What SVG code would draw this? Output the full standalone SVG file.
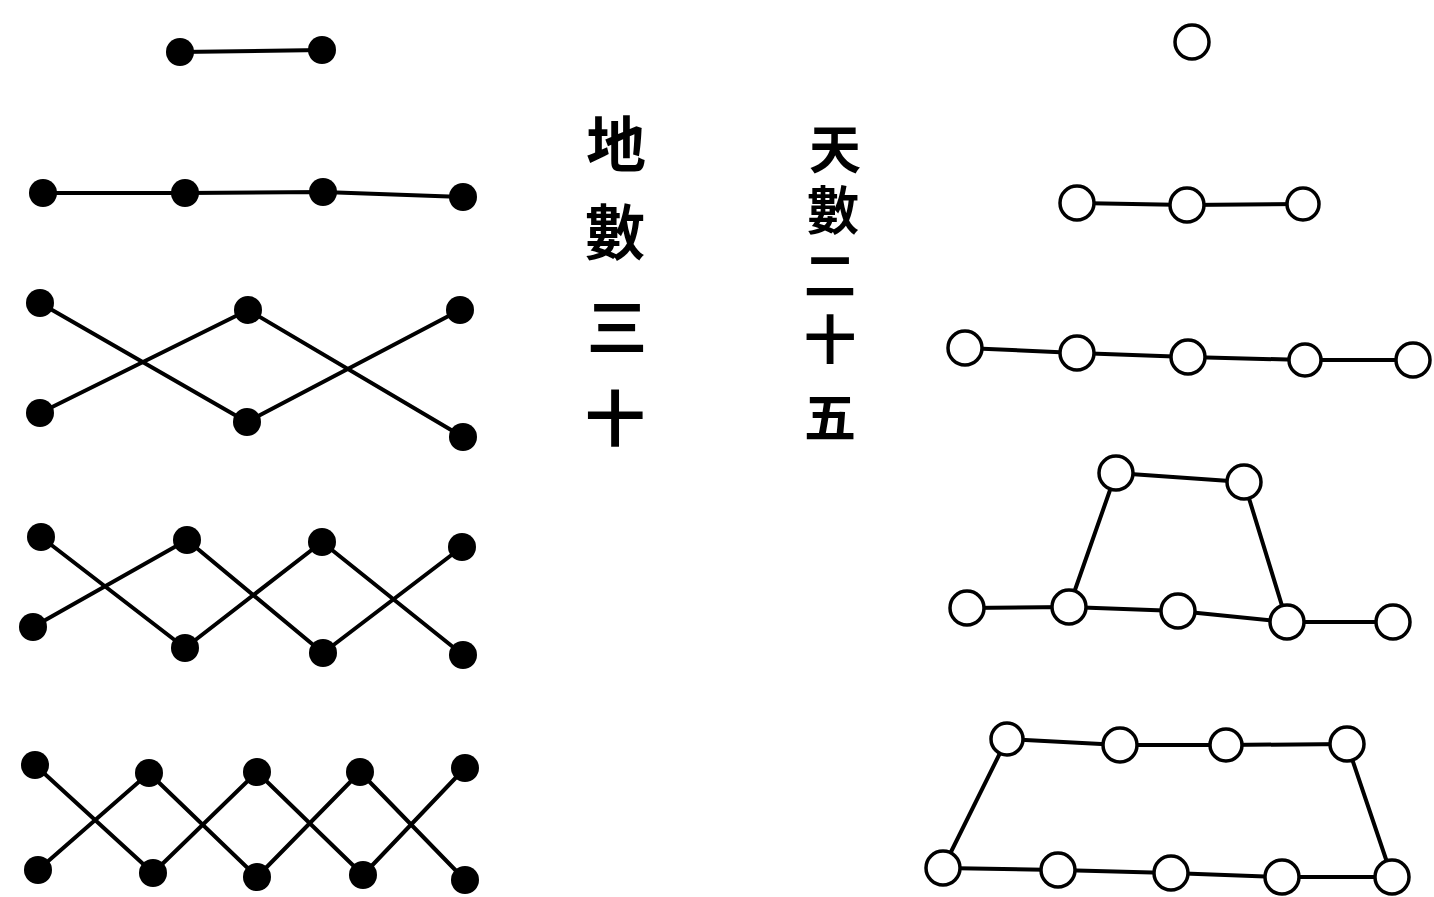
<svg xmlns="http://www.w3.org/2000/svg" width="1434" height="897" viewBox="0 0 1434 897">
<style>
.ln{stroke:#000;stroke-width:4;fill:none;stroke-linecap:round;stroke-linejoin:round}
.yin{fill:#000}
.yang{fill:#fff;stroke:#000;stroke-width:3.5}
.t{font-family:"Noto Sans CJK TC","Noto Sans CJK SC",sans-serif;font-weight:700;fill:#000;text-anchor:middle;dominant-baseline:central}
.tl{font-size:60px}
.tr{font-size:52px}
</style>
<rect width="1434" height="897" fill="#fff"/>
<g id="connectors">
<polyline class="ln" points="180,52 322,50"/>
<polyline class="ln" points="43,193 185,193 323,192 463,197"/>
<polyline class="ln" points="40,303 247,422 460,310"/>
<polyline class="ln" points="40,413 248,310 463,437"/>
<polyline class="ln" points="41,537 185,648 322,542 463,655"/>
<polyline class="ln" points="33,627 187,540 323,653 462,547"/>
<polyline class="ln" points="35,765 153,873 257,772 363,875 465,768"/>
<polyline class="ln" points="38,870 149,773 257,877 360,772 465,880"/>
<polyline class="ln" points="1077,203 1187,205 1303,204"/>
<polyline class="ln" points="965,348 1077,353 1188,357 1305,360 1413,360"/>
<polyline class="ln" points="967,608 1069,607 1178,611 1287,622 1393,622"/>
<polyline class="ln" points="1069,607 1116,473 1244,482 1287,622"/>
<polyline class="ln" points="943,868 1058,870 1171,873 1282,877 1392,877"/>
<polyline class="ln" points="943,868 1007,739 1120,745 1226,745 1347,744 1392,877"/>
</g>
<g id="earth-dots">
<g id="e1"><circle class="yin" cx="180" cy="52" r="14"/><circle class="yin" cx="322" cy="50" r="14"/></g>
<g id="e2"><circle class="yin" cx="43" cy="193" r="14"/><circle class="yin" cx="185" cy="193" r="14"/><circle class="yin" cx="323" cy="192" r="14"/><circle class="yin" cx="463" cy="197" r="14"/></g>
<g id="e3"><circle class="yin" cx="40" cy="303" r="14"/><circle class="yin" cx="248" cy="310" r="14"/><circle class="yin" cx="460" cy="310" r="14"/><circle class="yin" cx="40" cy="413" r="14"/><circle class="yin" cx="247" cy="422" r="14"/><circle class="yin" cx="463" cy="437" r="14"/></g>
<g id="e4"><circle class="yin" cx="41" cy="537" r="14"/><circle class="yin" cx="187" cy="540" r="14"/><circle class="yin" cx="322" cy="542" r="14"/><circle class="yin" cx="462" cy="547" r="14"/><circle class="yin" cx="33" cy="627" r="14"/><circle class="yin" cx="185" cy="648" r="14"/><circle class="yin" cx="323" cy="653" r="14"/><circle class="yin" cx="463" cy="655" r="14"/></g>
<g id="e5"><circle class="yin" cx="35" cy="765" r="14"/><circle class="yin" cx="149" cy="773" r="14"/><circle class="yin" cx="257" cy="772" r="14"/><circle class="yin" cx="360" cy="772" r="14"/><circle class="yin" cx="465" cy="768" r="14"/><circle class="yin" cx="38" cy="870" r="14"/><circle class="yin" cx="153" cy="873" r="14"/><circle class="yin" cx="257" cy="877" r="14"/><circle class="yin" cx="363" cy="875" r="14"/><circle class="yin" cx="465" cy="880" r="14"/></g>
</g>
<g id="heaven-circles">
<g id="h1"><circle class="yang" cx="1192" cy="42" r="17"/></g>
<g id="h2"><circle class="yang" cx="1077" cy="203" r="17"/><circle class="yang" cx="1187" cy="205" r="17"/><circle class="yang" cx="1303" cy="204" r="16"/></g>
<g id="h3"><circle class="yang" cx="965" cy="348" r="17"/><circle class="yang" cx="1077" cy="353" r="17"/><circle class="yang" cx="1188" cy="357" r="17"/><circle class="yang" cx="1305" cy="360" r="16"/><circle class="yang" cx="1413" cy="360" r="17"/></g>
<g id="h4"><circle class="yang" cx="1116" cy="473" r="17"/><circle class="yang" cx="1244" cy="482" r="17"/><circle class="yang" cx="967" cy="608" r="17"/><circle class="yang" cx="1069" cy="607" r="17"/><circle class="yang" cx="1178" cy="611" r="17"/><circle class="yang" cx="1287" cy="622" r="17"/><circle class="yang" cx="1393" cy="622" r="17"/></g>
<g id="h5"><circle class="yang" cx="1007" cy="739" r="16"/><circle class="yang" cx="1120" cy="745" r="17"/><circle class="yang" cx="1226" cy="745" r="16"/><circle class="yang" cx="1347" cy="744" r="17"/><circle class="yang" cx="943" cy="868" r="17"/><circle class="yang" cx="1058" cy="870" r="17"/><circle class="yang" cx="1171" cy="873" r="17"/><circle class="yang" cx="1282" cy="877" r="17"/><circle class="yang" cx="1392" cy="877" r="17"/></g>
</g>
<g id="label-earth">
<text class="t tl" x="616" y="140">地</text>
<text class="t tl" x="615" y="228">數</text>
<text class="t tl" x="617" y="323">三</text>
<text class="t tl" x="615" y="414">十</text>
</g>
<g id="label-heaven">
<text class="t tr" x="835" y="146">天</text>
<text class="t tr" x="833" y="207">數</text>
<text class="t tr" x="830" y="272">二</text>
<text class="t tr" x="830" y="336">十</text>
<text class="t tr" x="830" y="414">五</text>
</g>
</svg>
